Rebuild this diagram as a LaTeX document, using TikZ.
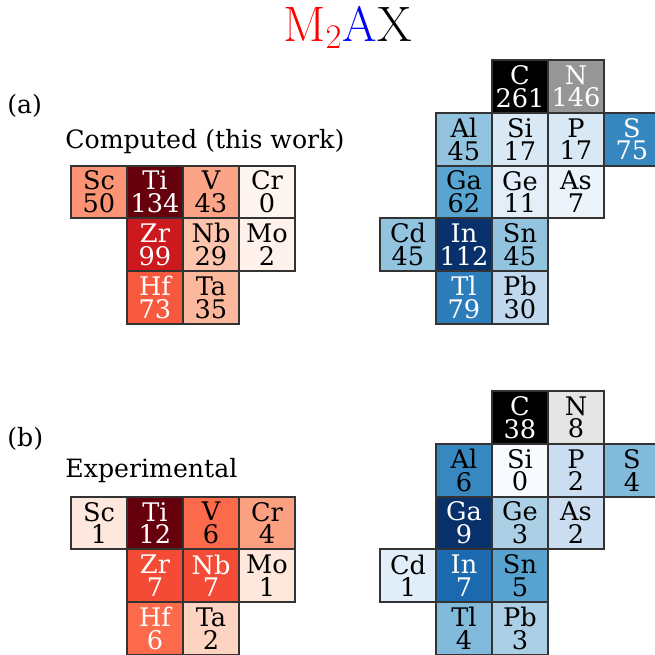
\documentclass[tikz,border=0pt]{standalone}
\usepackage[no-math]{fontspec}
\usepackage{xcolor}
\newfontfamily\cellfont{DejaVu Serif}
% computed
\definecolor{aSc}{RGB}{252,147,116}
\definecolor{aTi}{RGB}{103,0,13}
\definecolor{aV}{RGB}{252,164,135}
\definecolor{aCr}{RGB}{255,245,240}
\definecolor{aZr}{RGB}{204,25,30}
\definecolor{aNb}{RGB}{253,197,174}
\definecolor{aMo}{RGB}{255,242,236}
\definecolor{aHf}{RGB}{247,89,63}
\definecolor{aTa}{RGB}{252,184,157}
\definecolor{aC}{RGB}{0,0,0}
\definecolor{aN}{RGB}{150,150,150}
\definecolor{aAl}{RGB}{147,196,223}
\definecolor{aSi}{RGB}{217,232,245}
\definecolor{aP}{RGB}{217,232,245}
\definecolor{aS}{RGB}{54,134,192}
\definecolor{aGa}{RGB}{87,165,208}
\definecolor{aGe}{RGB}{227,238,249}
\definecolor{aAs}{RGB}{235,243,251}
\definecolor{aCd}{RGB}{147,196,223}
\definecolor{aIn}{RGB}{8,48,107}
\definecolor{aSn}{RGB}{147,196,223}
\definecolor{aTl}{RGB}{45,125,187}
\definecolor{aPb}{RGB}{192,216,237}
% experimental
\definecolor{bSc}{RGB}{254,231,220}
\definecolor{bTi}{RGB}{103,0,13}
\definecolor{bV}{RGB}{251,106,74}
\definecolor{bCr}{RGB}{252,160,130}
\definecolor{bZr}{RGB}{243,75,54}
\definecolor{bNb}{RGB}{243,75,54}
\definecolor{bMo}{RGB}{254,231,220}
\definecolor{bHf}{RGB}{251,106,74}
\definecolor{bTa}{RGB}{253,212,194}
\definecolor{bC}{RGB}{0,0,0}
\definecolor{bN}{RGB}{229,229,229}
\definecolor{bAl}{RGB}{55,135,192}
\definecolor{bSi}{RGB}{247,251,255}
\definecolor{bP}{RGB}{203,222,241}
\definecolor{bS}{RGB}{130,186,220}
\definecolor{bGa}{RGB}{8,48,107}
\definecolor{bGe}{RGB}{171,208,230}
\definecolor{bAs}{RGB}{203,222,241}
\definecolor{bCd}{RGB}{225,237,248}
\definecolor{bIn}{RGB}{27,105,175}
\definecolor{bSn}{RGB}{88,162,207}
\definecolor{bTl}{RGB}{130,186,220}
\definecolor{bPb}{RGB}{171,208,230}

\begin{document}
\begin{tikzpicture}[x=0.5pt, y=-0.5pt,
      every node/.append style={inner sep=0pt},
      elem/.style={draw=black!80, line width=1pt, anchor=north west,
        minimum width=28pt, minimum height=26.4pt, align=center,
        font=\cellfont\fontsize{12.8}{11.4}\selectfont}]
    \tikzstyle{dark} = [text=white]
    \tikzstyle{panel} = [anchor=base west, font=\cellfont\fontsize{12.6}{15}\selectfont]
    \useasboundingbox (0,0) rectangle (655,655);
    \node (title) [anchor=base, font=\fontsize{23.6}{28}\selectfont] at (347.5,41)
      {${\color{red}\mathrm{M}_{2}}{\color{blue}\mathrm{A}}\mathrm{X}$};
    \node (a) [panel] at (7,113) {(a)};
    \node (computed) [panel] at (65,148) {Computed (this work)};
    \node (b) [panel] at (7,446) {(b)};
    \node (experimental) [panel] at (65,477) {Experimental};

    \node (aSc) [elem, fill=aSc] at (70,164.6) {Sc\\50};
    \node (aTi) [elem, fill=aTi, dark] at (126,164.6) {Ti\\134};
    \node (aV) [elem, fill=aV] at (182,164.6) {V\\43};
    \node (aCr) [elem, fill=aCr] at (238,164.6) {Cr\\0};
    \node (aZr) [elem, fill=aZr, dark] at (126,217.4) {Zr\\99};
    \node (aNb) [elem, fill=aNb] at (182,217.4) {Nb\\29};
    \node (aMo) [elem, fill=aMo] at (238,217.4) {Mo\\2};
    \node (aHf) [elem, fill=aHf, dark] at (126,270.2) {Hf\\73};
    \node (aTa) [elem, fill=aTa] at (182,270.2) {Ta\\35};

    \node (aC) [elem, fill=aC, dark] at (491,59) {C\\261};
    \node (aN) [elem, fill=aN, dark] at (547,59) {N\\146};
    \node (aAl) [elem, fill=aAl] at (435,111.8) {Al\\45};
    \node (aSi) [elem, fill=aSi] at (491,111.8) {Si\\17};
    \node (aP) [elem, fill=aP] at (547,111.8) {P\\17};
    \node (aS) [elem, fill=aS, dark] at (603,111.8) {S\\75};
    \node (aGa) [elem, fill=aGa] at (435,164.6) {Ga\\62};
    \node (aGe) [elem, fill=aGe] at (491,164.6) {Ge\\11};
    \node (aAs) [elem, fill=aAs] at (547,164.6) {As\\7};
    \node (aCd) [elem, fill=aCd] at (379,217.4) {Cd\\45};
    \node (aIn) [elem, fill=aIn, dark] at (435,217.4) {In\\112};
    \node (aSn) [elem, fill=aSn] at (491,217.4) {Sn\\45};
    \node (aTl) [elem, fill=aTl, dark] at (435,270.2) {Tl\\79};
    \node (aPb) [elem, fill=aPb] at (491,270.2) {Pb\\30};

    \node (bSc) [elem, fill=bSc] at (70,495.6) {Sc\\1};
    \node (bTi) [elem, fill=bTi, dark] at (126,495.6) {Ti\\12};
    \node (bV) [elem, fill=bV] at (182,495.6) {V\\6};
    \node (bCr) [elem, fill=bCr] at (238,495.6) {Cr\\4};
    \node (bZr) [elem, fill=bZr, dark] at (126,548.4) {Zr\\7};
    \node (bNb) [elem, fill=bNb, dark] at (182,548.4) {Nb\\7};
    \node (bMo) [elem, fill=bMo] at (238,548.4) {Mo\\1};
    \node (bHf) [elem, fill=bHf, dark] at (126,601.2) {Hf\\6};
    \node (bTa) [elem, fill=bTa] at (182,601.2) {Ta\\2};

    \node (bC) [elem, fill=bC, dark] at (491,390) {C\\38};
    \node (bN) [elem, fill=bN] at (547,390) {N\\8};
    \node (bAl) [elem, fill=bAl] at (435,442.8) {Al\\6};
    \node (bSi) [elem, fill=bSi] at (491,442.8) {Si\\0};
    \node (bP) [elem, fill=bP] at (547,442.8) {P\\2};
    \node (bS) [elem, fill=bS] at (603,442.8) {S\\4};
    \node (bGa) [elem, fill=bGa, dark] at (435,495.6) {Ga\\9};
    \node (bGe) [elem, fill=bGe] at (491,495.6) {Ge\\3};
    \node (bAs) [elem, fill=bAs] at (547,495.6) {As\\2};
    \node (bCd) [elem, fill=bCd] at (379,548.4) {Cd\\1};
    \node (bIn) [elem, fill=bIn, dark] at (435,548.4) {In\\7};
    \node (bSn) [elem, fill=bSn] at (491,548.4) {Sn\\5};
    \node (bTl) [elem, fill=bTl] at (435,601.2) {Tl\\4};
    \node (bPb) [elem, fill=bPb] at (491,601.2) {Pb\\3};
\end{tikzpicture}
\end{document}
